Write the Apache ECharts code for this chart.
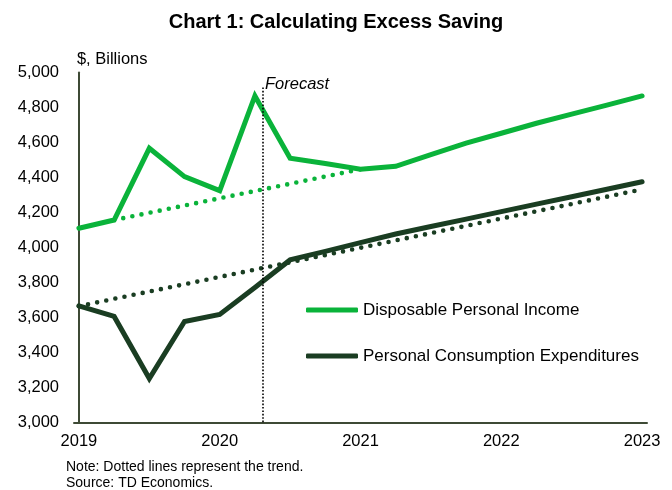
<!DOCTYPE html>
<html>
<head>
<meta charset="utf-8">
<style>
  html, body { margin: 0; padding: 0; background: #fff; }
  #chart { width: 672px; height: 490px; }
</style>
<script src="https://cdn.jsdelivr.net/npm/echarts@6/dist/echarts.min.js"></script>
</head>
<body>
<div id="chart"></div>
<script>
// Quarterly history and forecast, $ billions
const quarters = [
  '2019Q1','2019Q2','2019Q3','2019Q4',
  '2020Q1','2020Q2','2020Q3','2020Q4',
  '2021Q1','2021Q2','2021Q3','2021Q4',
  '2022Q1','2022Q2','2022Q3','2022Q4',
  '2023Q1'
];
const disposableIncome = [
  4110, 4157, 4567, 4405,
  4325, 4866, 4510, 4480,
  4447, 4464, 4531, 4596,
  4653, 4710, 4762, 4814,
  4866
];
const consumption = [
  3667, 3606, 3251, 3577,
  3617, 3771, 3929, 3978,
  4028, 4077, 4120, 4162,
  4205, 4248, 4290, 4333,
  4376
];
// Pre-pandemic trend lines (start and end points)
const incomeTrendQuarters = ['2019Q2', '2021Q1'];
const incomeTrendValues = [4157, 4447];
const consumptionTrendQuarters = ['2019Q1', '2023Q1'];
const consumptionTrendValues = [3665, 4332];

const yearLabels = ['2019', '2020', '2021', '2022', '2023'];
const forecastQuarterPos = 5.23;   // quarter position where the forecast begins
const forecastLineTop = 4915;

const GREEN = '#0ab33a';
const DARK = '#1a3d22';
const AXIS = '#3e4a35';
const FONT = "'Liberation Sans', Arial, sans-serif";

const qIndex = q => quarters.indexOf(q);
const pairs = (qs, vals) => qs.map((q, i) => [qIndex(q), vals[i]]);

const chart = echarts.init(document.getElementById('chart'), null, { renderer: 'canvas' });

chart.setOption({
  animation: false,
  backgroundColor: '#fff',
  textStyle: { fontFamily: FONT, color: '#000' },
  title: {
    text: 'Chart 1: Calculating Excess Saving',
    left: 'center',
    top: 7,
    textStyle: {
      fontFamily: FONT,
      fontWeight: 'bold',
      fontSize: 20,
      color: '#000'
    }
  },
  grid: { left: 74, right: 25, top: 72.5, bottom: 67.5, containLabel: false, outerBoundsMode: 'none' },
  legend: {
    orient: 'vertical',
    left: 306,
    top: 300,
    padding: 0,
    itemWidth: 52,
    itemHeight: 5,
    itemGap: 26,
    icon: 'roundRect',
    data: ['Disposable Personal Income', 'Personal Consumption Expenditures'],
    textStyle: { fontFamily: FONT, fontSize: 17, color: '#000', lineHeight: 20 },
    selectedMode: false
  },
  xAxis: {
    type: 'value',
    min: -0.14,
    max: 16.14,
    splitLine: { show: false },
    axisTick: { show: false },
    axisLine: { show: true, onZero: false, lineStyle: { color: AXIS, width: 2 } },
    axisLabel: {
      customValues: [0, 4, 8, 12, 16],
      formatter: v => yearLabels[Math.round(v / 4)],
      fontFamily: FONT,
      fontSize: 16.5,
      color: '#000',
      margin: 10
    }
  },
  yAxis: {
    type: 'value',
    min: 3000,
    max: 5000,
    interval: 200,
    name: '$, Billions',
    nameLocation: 'end',
    nameGap: 5,
    nameTextStyle: { fontFamily: FONT, fontSize: 16.5, color: '#000', align: 'left', verticalAlign: 'bottom', padding: [0, 0, 0, -2] },
    splitLine: { show: false },
    axisTick: { show: false },
    axisLine: { show: true, lineStyle: { color: AXIS, width: 2 } },
    axisLabel: {
      formatter: v => v.toLocaleString('en-US'),
      fontFamily: FONT,
      fontSize: 16.5,
      color: '#000',
      margin: 15
    }
  },
  series: [
    {
      name: 'Disposable Personal Income trend',
      type: 'line',
      data: pairs(incomeTrendQuarters, incomeTrendValues),
      symbol: 'none',
      lineStyle: { color: GREEN, width: 4.6, type: [0, 9.3], cap: 'round' },
      z: 2
    },
    {
      name: 'Personal Consumption Expenditures trend',
      type: 'line',
      data: pairs(consumptionTrendQuarters, consumptionTrendValues),
      symbol: 'none',
      lineStyle: { color: DARK, width: 4.6, type: [0, 9.3], cap: 'round' },
      z: 2
    },
    {
      name: 'Disposable Personal Income',
      type: 'line',
      data: quarters.map((q, i) => [i, disposableIncome[i]]),
      symbol: 'none',
      color: GREEN,
      lineStyle: { color: GREEN, width: 5, cap: 'round', join: 'miter' },
      z: 3,
      markLine: {
        silent: true,
        symbol: 'none',
        label: { show: false },
        lineStyle: { color: '#000', width: 1.6, type: [1.6, 1.8] },
        data: [[{ coord: [forecastQuarterPos, forecastLineTop] }, { coord: [forecastQuarterPos, 3000] }]]
      },
      markPoint: {
        silent: true,
        symbol: 'circle',
        symbolSize: 0,
        data: [{ coord: [forecastQuarterPos, forecastLineTop] }],
        label: {
          show: true,
          formatter: 'Forecast',
          position: [2, -3],
          align: 'left',
          verticalAlign: 'middle',
          fontFamily: FONT,
          fontStyle: 'italic',
          fontSize: 16.5,
          color: '#000'
        }
      }
    },
    {
      name: 'Personal Consumption Expenditures',
      type: 'line',
      data: quarters.map((q, i) => [i, consumption[i]]),
      symbol: 'none',
      color: DARK,
      lineStyle: { color: DARK, width: 5, cap: 'round', join: 'miter' },
      z: 3
    }
  ],
  graphic: [
    {
      type: 'text',
      left: 66,
      top: 460,
      style: { text: 'Note: Dotted lines represent the trend.', font: '14px ' + FONT, fill: '#000' }
    },
    {
      type: 'text',
      left: 66,
      top: 476,
      style: { text: 'Source: TD Economics.', font: '14px ' + FONT, fill: '#000' }
    }
  ]
});
</script>
</body>
</html>
